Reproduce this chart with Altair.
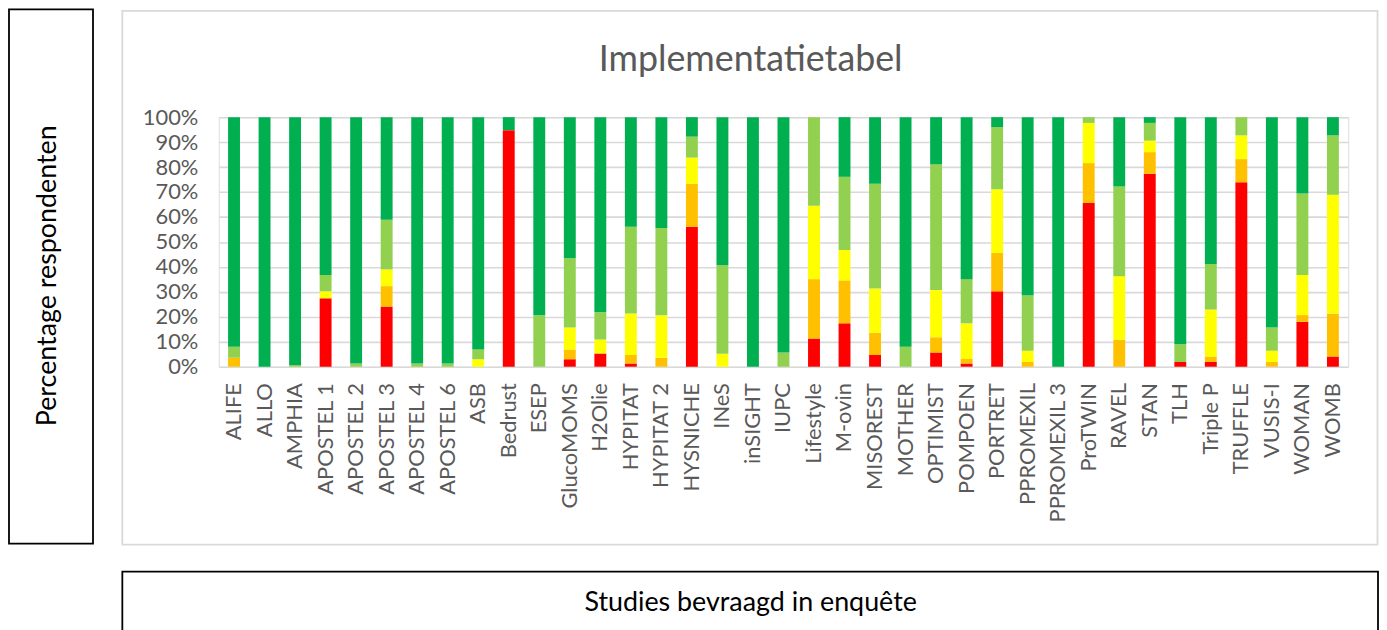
import altair as alt
import pandas as pd

studies = ["ALIFE", "ALLO", "AMPHIA", "APOSTEL 1", "APOSTEL 2", "APOSTEL 3", "APOSTEL 4",
           "APOSTEL 6", "ASB", "Bedrust", "ESEP", "GlucoMOMS", "H2Olie", "HYPITAT",
           "HYPITAT 2", "HYSNICHE", "INeS", "inSIGHT", "IUPC", "Lifestyle", "M-ovin",
           "MISOREST", "MOTHER", "OPTIMIST", "POMPOEN", "PORTRET", "PPROMEXIL",
           "PPROMEXIL 3", "ProTWIN", "RAVEL", "STAN", "TLH", "Triple P", "TRUFFLE",
           "VUSIS-I", "WOMAN", "WOMB"]

red = [0, 0, 0, 27.4, 0, 24.1, 0, 0, 0, 94.8, 0, 3, 5.3, 1.3, 0, 56.1, 0, 0, 0, 11.3,
       17.4, 4.7, 0, 5.7, 1.3, 30.2, 0, 0, 65.6, 0, 77.3, 1.9, 1.9, 73.9, 0, 18, 4.1]
orange = [3.6, 0, 0, 0, 0, 8.2, 0, 0, 0, 0, 0, 3.9, 0, 3.4, 3.6, 17.2, 0, 0, 0, 23.8,
          17.2, 8.9, 0, 6.1, 1.8, 15.4, 1.9, 0, 16, 10.8, 8.7, 0, 2.2, 9.3, 1.9, 2.7, 17.2]
yellow = [0, 0, 0, 2.8, 0, 6.7, 0, 0, 3, 0, 0, 8.8, 5.6, 16.6, 17, 10.5, 5.2, 0, 0, 29.4,
          12.2, 17.7, 0, 18.9, 14.3, 25.5, 4.5, 0, 16.1, 25.5, 4.6, 0, 18.8, 9.5, 4.5, 16.1, 47.6]
lightgreen = [4.4, 0, 0.7, 6.6, 1.3, 19.9, 1.3, 1.3, 3.9, 0, 20.6, 27.8, 10.9, 34.8, 35,
              8.4, 35.5, 0, 5.7, 35.5, 29.3, 42, 8, 50.4, 17.7, 24.9, 22.1, 0, 2.3, 35.9,
              7.1, 7.1, 18.3, 7.3, 9.3, 32.6, 23.8]
green = [92, 100, 99.3, 63.2, 98.7, 41.1, 98.7, 98.7, 93.1, 5.2, 79.4, 56.5, 78.2, 43.9,
         44.4, 7.8, 59.3, 100, 94.3, 0, 23.9, 26.7, 92, 18.9, 64.9, 4, 71.5, 100, 0, 27.8,
         2.3, 91, 58.8, 0, 84.3, 30.6, 7.3]

series_names = ["rood", "oranje", "geel", "lichtgroen", "groen"]
series_colors = ["#FF0000", "#FFC000", "#FFFF00", "#92D050", "#00B050"]
series_values = [red, orange, yellow, lightgreen, green]

rows = []
for si, (name, vals) in enumerate(zip(series_names, series_values)):
    for study, v in zip(studies, vals):
        rows.append({"studie": study, "reeks": name, "volgorde": si, "waarde": v})
df = pd.DataFrame(rows)

FONT = "Lato"
GREY = "#595959"

bars = alt.Chart(df).mark_bar().encode(
    x=alt.X("studie:N", sort=studies,
            scale=alt.Scale(paddingInner=0.61, paddingOuter=0.305),
            axis=alt.Axis(title=None, labelAngle=-90, labelFontSize=22, labelFont=FONT,
                          labelColor=GREY, labelPadding=16, ticks=False, domain=False,
                          labelLimit=300)),
    y=alt.Y("waarde:Q", stack="zero", scale=alt.Scale(domain=[0, 100], nice=False),
            axis=alt.Axis(title=None, values=list(range(0, 101, 10)),
                          labelExpr="datum.value + '%'", labelFontSize=22, labelFont=FONT,
                          labelColor=GREY, labelPadding=21, ticks=False, domain=False,
                          gridColor="#D9D9D9", gridWidth=1.6)),
    color=alt.Color("reeks:N", scale=alt.Scale(domain=series_names, range=series_colors),
                    legend=None),
    order=alt.Order("volgorde:Q", sort="ascending"),
)

one = alt.Data(values=[{}])

left_box = alt.Chart(one).mark_rect(fill=None, stroke="#000000", strokeWidth=1.8).encode(
    x=alt.value(-211), x2=alt.value(-126.5), y=alt.value(-108.5), y2=alt.value(429))
left_text = alt.Chart(one).mark_text(text="Percentage respondenten", angle=270, font=FONT,
                                     fontSize=27, color="#000000", align="center",
                                     baseline="middle").encode(
    x=alt.value(-172), y=alt.value(159.5))
frame = alt.Chart(one).mark_rect(fill=None, stroke="#D9D9D9", strokeWidth=1.8).encode(
    x=alt.value(-97), x2=alt.value(1165.5), y=alt.value(-107), y2=alt.value(430))
title = alt.Chart(one).mark_text(text="Implementatietabel", font=FONT, fontSize=36,
                                 color=GREY, align="center", baseline="middle").encode(
    x=alt.value(535), y=alt.value(-57))
bottom_box = alt.Chart(one).mark_rect(fill=None, stroke="#000000", strokeWidth=1.8).encode(
    x=alt.value(-97), x2=alt.value(1166), y=alt.value(457), y2=alt.value(560))
bottom_text = alt.Chart(one).mark_text(text="Studies bevraagd in enquête", font=FONT,
                                       fontSize=27, color="#000000", align="center",
                                       baseline="middle").encode(
    x=alt.value(535), y=alt.value(489))

chart = alt.layer(frame, left_box, bottom_box, bars, left_text, title, bottom_text).properties(
    width=1136, height=251,
    padding={"left": 212, "top": 108, "right": 31, "bottom": 263},
    autosize=alt.AutoSizeParams(type="none"),
).configure_view(stroke=None).configure(background="#FFFFFF")

chart.save("out.html", embed_options={"renderer": "svg", "actions": False})
